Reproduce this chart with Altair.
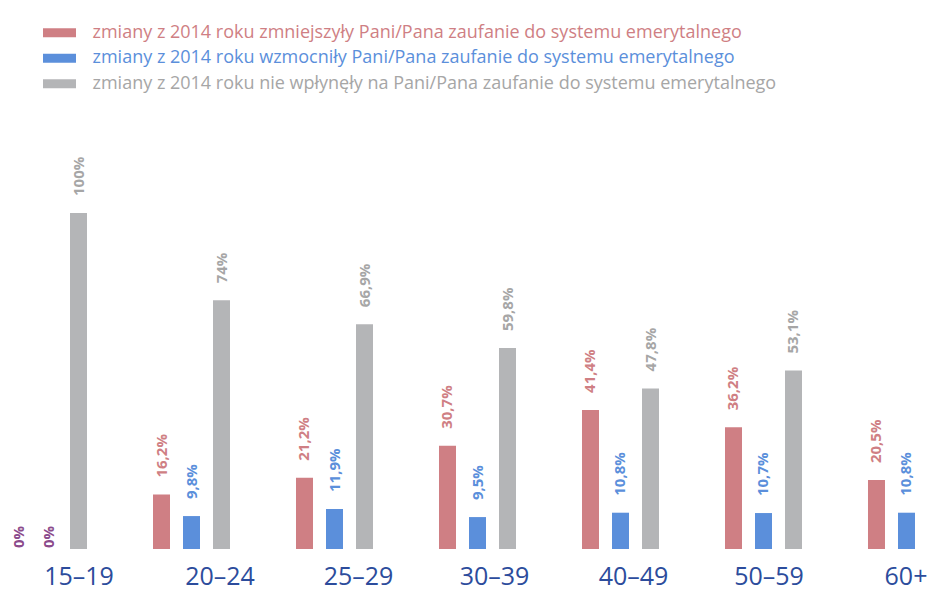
import altair as alt
import pandas as pd

groups = ["15–19", "20–24", "25–29", "30–39", "40–49", "50–59", "60+"]
series = [
    "zmiany z 2014 roku zmniejszyły Pani/Pana zaufanie do systemu emerytalnego",
    "zmiany z 2014 roku wzmocniły Pani/Pana zaufanie do systemu emerytalnego",
    "zmiany z 2014 roku nie wpłynęły na Pani/Pana zaufanie do systemu emerytalnego",
]
decreased = [0, 16.2, 21.2, 30.7, 41.4, 36.2, 20.5]
strengthened = [0, 9.8, 11.9, 9.5, 10.8, 10.7, 10.8]
no_effect = [100, 74, 66.9, 59.8, 47.8, 53.1, 68.7]

bar_colors = ["#cf7f84", "#5b8fdb", "#b4b5b7"]
text_colors = ["#cf7f84", "#5b8fdb", "#a6a6a6"]
zero_color = "#8b4a8b"
axis_color = "#2c4c9c"
FONT = "Open Sans"

rows = []
for vals, s in zip([decreased, strengthened, no_effect], series):
    for g, v in zip(groups, vals):
        rows.append({"group": g, "series": s, "value": v,
                     "label": f"{v:g}".replace(".", ",") + "%"})
df = pd.DataFrame(rows)
leg_df = pd.DataFrame({"series": series})

bar_scale = alt.Scale(domain=series, range=bar_colors)
txt_scale = alt.Scale(domain=series, range=text_colors)

# per-label horizontal nudges of the category labels (style only)
label_offsets = [30.5, 28.5, 24, 17, 13, 5.5, -0.5]
offset_cond = [{"test": f"datum.value === '{g}'", "value": o}
               for g, o in zip(groups, label_offsets)]

x_enc = alt.X(
    "group:N", sort=groups, title=None,
    scale=alt.Scale(paddingInner=0.4615, paddingOuter=0, range=[0, 935]),
    axis=alt.Axis(labelAngle=0, labelFontSize=25, labelColor=axis_color,
                  labelFont=FONT, labelPadding=15, domain=False, ticks=False,
                  labelOffset={"condition": offset_cond, "value": 0}),
)
xo_enc = alt.XOffset("series:N", sort=series,
                     scale=alt.Scale(paddingInner=0.4333, paddingOuter=0))
y_enc = alt.Y("value:Q", axis=None,
              scale=alt.Scale(domain=[0, 161.0], nice=False, zero=True))

base = alt.Chart(df).encode(x=x_enc, xOffset=xo_enc, y=y_enc)

bars = base.mark_bar(width=17, clip=True).encode(
    color=alt.Color("series:N", scale=bar_scale, legend=None)
)
labels = base.transform_filter(alt.datum.value > 0).mark_text(
    angle=270, align="left", baseline="middle", dx=17, clip=True,
    font=FONT, fontSize=15, fontWeight="bold").encode(
    text="label:N",
    color=alt.Color("series:N", scale=txt_scale, legend=None),
)
zero_labels = base.transform_filter(alt.datum.value == 0).mark_text(
    angle=270, align="left", baseline="middle", dx=1, clip=True,
    font=FONT, fontSize=15, fontWeight="bold", color=zero_color).encode(
    text="label:N",
)

leg_y = alt.Y("series:N", sort=series, axis=None,
              scale=alt.Scale(type="point", range=[12, 88.5]))
leg_marks = alt.Chart(leg_df).mark_tick(orient="horizontal", size=33,
                                        thickness=9, opacity=1).encode(
    y=leg_y, x=alt.value(49.5),
    color=alt.Color("series:N", scale=bar_scale, legend=None),
)
leg_text = alt.Chart(leg_df).mark_text(align="left", baseline="middle",
                                       font=FONT, fontSize=18).encode(
    y=leg_y, x=alt.value(82.5), text="series:N",
    color=alt.Color("series:N", scale=txt_scale, legend=None),
)

chart = alt.layer(bars, labels, zero_labels, leg_marks, leg_text).resolve_scale(
    y="independent", color="independent"
).properties(
    width=917, height=541,
    autosize=alt.AutoSizeParams(type="none"),
    padding={"left": 2, "top": 0, "right": 0, "bottom": 44},
).configure(background="white").configure_view(stroke=None)

chart.save("out.html", embed_options={"renderer": "svg", "actions": False})
